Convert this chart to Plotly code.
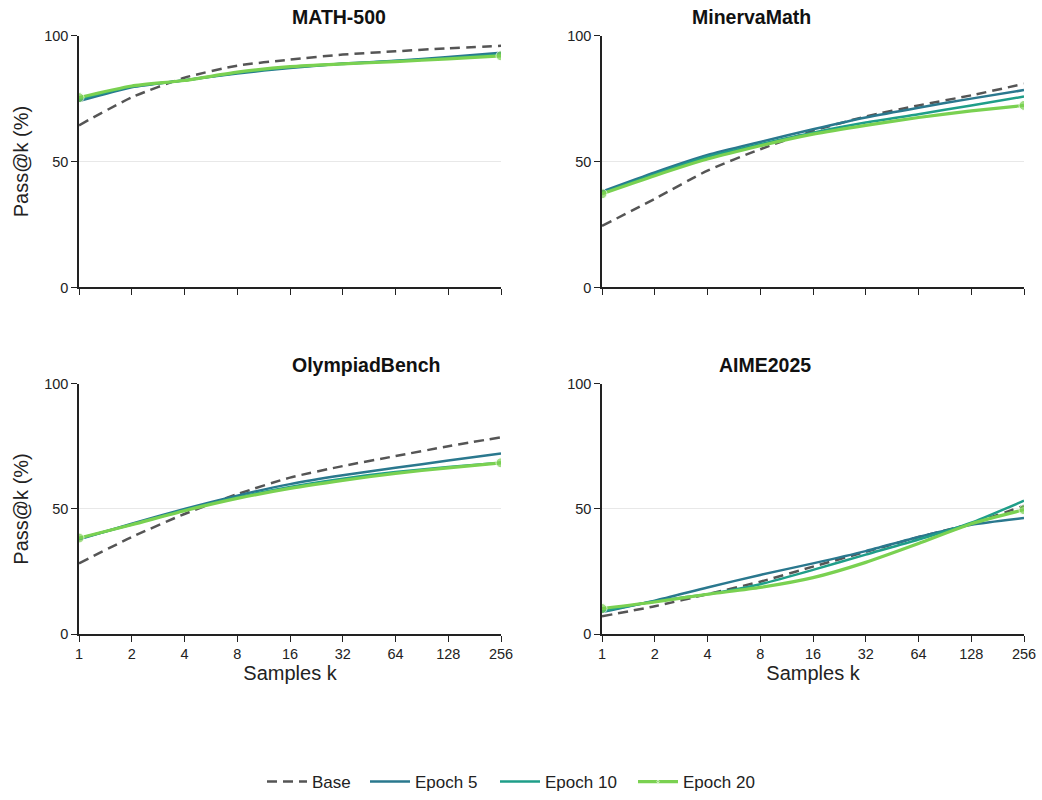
import plotly.graph_objects as go

k_values = [1, 2, 4, 8, 16, 32, 64, 128, 256]
k_labels = ["1", "2", "4", "8", "16", "32", "64", "128", "256"]
benchmarks = ["MATH-500", "MinervaMath", "OlympiadBench", "AIME2025"]
series_names = ["Base", "Epoch 5", "Epoch 10", "Epoch 20"]

math500_base = [64.4, 75.5, 83.3, 88.1, 90.5, 92.5, 93.8, 95.0, 96.0]
math500_e5 = [74.0, 79.5, 82.3, 85.0, 87.2, 88.9, 90.0, 91.5, 93.2]
math500_e10 = [74.8, 79.8, 82.2, 85.3, 87.5, 88.8, 89.9, 91.0, 92.5]
math500_e20 = [75.4, 80.0, 82.2, 85.5, 87.7, 88.8, 89.7, 90.8, 92.0]

minerva_base = [24.4, 35.2, 46.4, 54.9, 62.2, 67.9, 72.3, 76.3, 80.9]
minerva_e5 = [38.1, 45.7, 52.6, 57.8, 62.8, 67.5, 71.4, 75.0, 78.4]
minerva_e10 = [37.5, 45.0, 51.9, 56.9, 61.5, 65.5, 68.8, 72.3, 75.8]
minerva_e20 = [37.2, 44.4, 51.0, 56.3, 60.9, 64.4, 67.5, 70.1, 72.3]

olympiad_base = [28.3, 38.8, 48.0, 55.9, 62.5, 67.1, 71.1, 75.0, 78.6]
olympiad_e5 = [37.9, 44.1, 50.0, 55.3, 59.9, 63.4, 66.4, 69.3, 72.1]
olympiad_e10 = [38.2, 43.8, 49.6, 54.6, 58.8, 62.1, 64.7, 66.7, 68.4]
olympiad_e20 = [38.4, 43.7, 49.3, 54.2, 58.2, 61.4, 64.2, 66.4, 68.4]

aime_base = [7.2, 11.2, 16.0, 21.0, 27.0, 32.9, 38.8, 44.1, 51.3]
aime_e5 = [8.9, 13.4, 18.7, 23.7, 28.3, 33.2, 38.8, 43.7, 46.4]
aime_e10 = [9.2, 13.2, 16.0, 20.0, 25.7, 31.8, 37.8, 44.5, 53.3]
aime_e20 = [10.3, 12.9, 16.0, 18.7, 22.6, 28.7, 36.2, 44.1, 49.7]

data = {
    "MATH-500": [math500_base, math500_e5, math500_e10, math500_e20],
    "MinervaMath": [minerva_base, minerva_e5, minerva_e10, minerva_e20],
    "OlympiadBench": [olympiad_base, olympiad_e5, olympiad_e10, olympiad_e20],
    "AIME2025": [aime_base, aime_e5, aime_e10, aime_e20],
}

colors = ["#555555", "#2a788e", "#1f9e89", "#7ad151"]
widths = [2.5, 2.5, 2.5, 3.2]
dashes = ["10px,6px", "solid", "solid", "solid"]

FONT = "Liberation Sans, Arial, sans-serif"
W, H = 1042, 792  # effective viewport size used for layout fractions
col_x = [(79, 501), (602, 1024)]
row_y = [(36, 290), (387, 640)]
legend_x_px = [262, 365, 495, 633]
legend_ids = ["legend", "legend2", "legend3", "legend4"]

fig = go.Figure()
for i, b in enumerate(benchmarks):
    r, c = divmod(i, 2)
    ax = "" if i == 0 else str(i + 1)
    for s, name in enumerate(series_names):
        vals = data[b][s]
        is_last = s == 3
        fig.add_trace(go.Scatter(
            x=k_values, y=vals, name=name,
            mode="lines+markers" if is_last else "lines",
            line=dict(color=colors[s], width=widths[s], dash=dashes[s], shape="spline", smoothing=0.6),
            marker=dict(size=[10] + [0] * (len(vals) - 2) + [10], color=colors[s]) if is_last else None,
            showlegend=(i == 0), legendgroup=name, legend=legend_ids[s],
            xaxis="x" + ax, yaxis="y" + ax,
        ))
    x0, x1 = col_x[c]
    y0, y1 = row_y[r]
    xdom = [x0 / W, x1 / W]
    ydom = [1 - y1 / H, 1 - y0 / H]
    xa = dict(domain=xdom, type="log", range=[0, 2.40824], tickvals=k_values,
              ticktext=k_labels if r == 1 else [""] * 9, showgrid=False, automargin=False,
              showline=True, linecolor="#222", linewidth=1.5, ticks="outside", ticklen=6,
              tickcolor="#222", anchor="y" + ax, zeroline=False,
              tickfont=dict(size=14.5, family=FONT, color="#222"))
    if r == 1:
        xa["title"] = dict(text="Samples k", font=dict(size=20, family=FONT, color="#222"), standoff=4)
    ya = dict(domain=ydom, range=[0, 100], tickvals=[0, 50, 100], showgrid=True, automargin=False,
              gridcolor="#e8e8e8", gridwidth=1, showline=True, linecolor="#222", linewidth=1.5,
              ticks="outside", ticklen=6, tickcolor="#222", anchor="x" + ax, zeroline=False,
              tickfont=dict(size=14.5, family=FONT, color="#222"))
    if c == 0:
        ya["title"] = dict(text="Pass@k (%)", font=dict(size=20, family=FONT, color="#222"), standoff=10)
    fig.layout["xaxis" + ax] = xa
    fig.layout["yaxis" + ax] = ya
    fig.add_annotation(text="<b>" + b + "</b>", x=(xdom[0] + xdom[1]) / 2, y=1 - (y0 - 19) / H,
                       xref="paper", yref="paper", showarrow=False, yanchor="middle",
                       font=dict(size=19.5, family=FONT, color="#111"))

legend_layout = {}
for lid, lx in zip(legend_ids, legend_x_px):
    legend_layout[lid] = dict(orientation="h", x=lx / W, xanchor="left", y=1 - 789 / H, yanchor="middle",
                              font=dict(size=17, family=FONT, color="#222"), itemwidth=40,
                              bgcolor="rgba(0,0,0,0)")

fig.update_layout(
    autosize=True, margin=dict(l=0, r=0, t=0, b=0),
    paper_bgcolor="white", plot_bgcolor="white",
    font=dict(family=FONT, size=14, color="#222"),
    **legend_layout,
)

post = (
    "document.documentElement.style.height='100%';"
    "document.documentElement.style.overflow='hidden';"
    "document.body.style.height='100%';"
    "document.body.style.margin='0';"
    "document.body.style.overflow='hidden';"
    "var gd=document.getElementById('{plot_id}');"
    "gd.style.width='100vw';gd.style.height='100vh';"
    "Plotly.Plots.resize(gd);"
)
fig.write_html("out.html", config={"displayModeBar": False, "responsive": True},
               default_width="100%", default_height="100%", post_script=post)
